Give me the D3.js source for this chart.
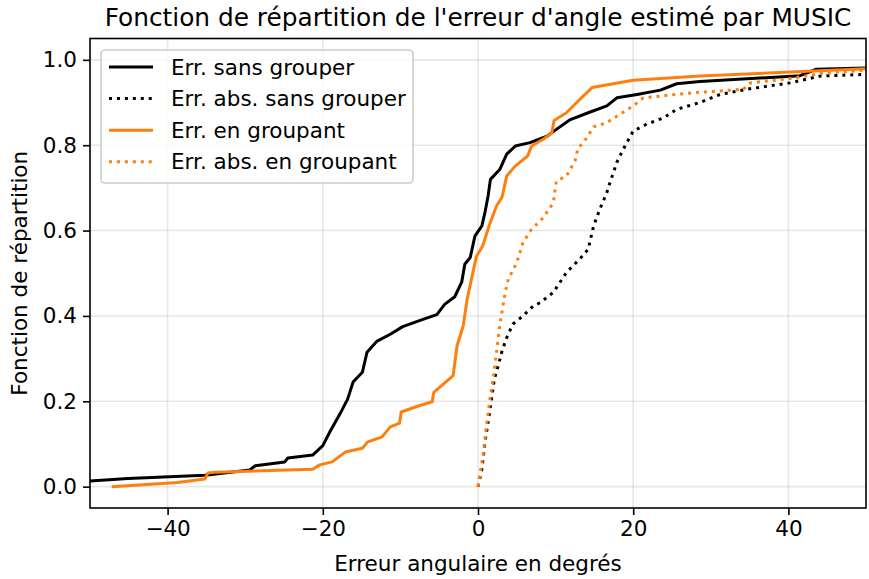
<!DOCTYPE html>
<html>
<head>
<meta charset="utf-8">
<script src="https://cdn.jsdelivr.net/npm/d3@7"></script>
<style>
  html, body { margin: 0; padding: 0; background: #fff; }
  svg { display: block; }
  text { font-family: "DejaVu Sans", sans-serif; }
</style>
</head>
<body>
<svg id="chart" width="869" height="579"></svg>
<script>
// Empirical CDFs of the MUSIC angle estimation error, as [error in degrees, cumulative fraction]
const errSans = [
  [-56, 0.010], [-50.0, 0.013], [-45.1, 0.019], [-35.2, 0.027], [-29.4, 0.039], [-28.7, 0.049],
  [-24.9, 0.058], [-24.5, 0.067], [-21.3, 0.074], [-20.0, 0.096], [-19.1, 0.128], [-17.8, 0.170],
  [-16.8, 0.205], [-16.1, 0.245], [-14.9, 0.268], [-14.3, 0.315], [-13.0, 0.341], [-11.3, 0.357],
  [-9.7, 0.375], [-7.1, 0.392], [-5.3, 0.403], [-4.3, 0.427], [-3.0, 0.445], [-2.1, 0.479],
  [-1.7, 0.521], [-1.0, 0.537], [-0.4, 0.587], [0.5, 0.611], [0.9, 0.643], [1.3, 0.681],
  [1.6, 0.720], [2.8, 0.743], [3.7, 0.779], [4.8, 0.798], [6.7, 0.806], [8.9, 0.821],
  [10.1, 0.837], [11.9, 0.860], [14.2, 0.876], [16.6, 0.892], [17.9, 0.911], [20.5, 0.919],
  [23.5, 0.929], [25.6, 0.944], [28.6, 0.949], [41.5, 0.963], [43.6, 0.978], [50.0, 0.981],
  [55, 0.984]
];
const absSans = [
  [0, 0.000], [0.5, 0.041], [0.9, 0.104], [1.3, 0.151], [1.8, 0.213], [2.1, 0.252],
  [2.6, 0.283], [3.1, 0.318], [3.7, 0.349], [4.5, 0.381], [5.8, 0.400], [7.1, 0.423],
  [8.0, 0.431], [9.7, 0.455], [11.4, 0.502], [13.1, 0.533], [14.2, 0.556], [14.9, 0.611],
  [15.7, 0.650], [16.6, 0.689], [17.0, 0.712], [17.9, 0.760], [18.7, 0.790], [20.0, 0.833],
  [21.7, 0.849], [23.9, 0.864], [25.6, 0.884], [28.6, 0.900], [31.2, 0.919], [34.6, 0.931],
  [40.2, 0.946], [44.1, 0.962], [50.0, 0.966], [55, 0.970]
];
const errGroup = [
  [-47.2, 0.000], [-38.7, 0.010], [-35.2, 0.018], [-34.8, 0.032], [-33.9, 0.034], [-21.3, 0.041],
  [-20.4, 0.051], [-18.8, 0.058], [-17.1, 0.081], [-14.9, 0.090], [-14.2, 0.105], [-12.4, 0.116],
  [-11.3, 0.140], [-10.1, 0.149], [-9.9, 0.175], [-7.7, 0.189], [-5.9, 0.199], [-5.7, 0.221],
  [-3.2, 0.260], [-2.7, 0.330], [-1.9, 0.377], [-1.4, 0.439], [-0.2, 0.540], [0.6, 0.564],
  [1.5, 0.615], [2.4, 0.658], [3.1, 0.678], [3.7, 0.728], [4.8, 0.751], [6.4, 0.775],
  [6.9, 0.798], [8.4, 0.814], [9.5, 0.828], [9.8, 0.858], [11.4, 0.876], [13.1, 0.907],
  [14.7, 0.935], [20.0, 0.952], [28.6, 0.962], [43.2, 0.974], [50.0, 0.979], [55, 0.982]
];
const absGroup = [
  [0, 0.000], [0.7, 0.080], [1.1, 0.143], [1.5, 0.201], [2.0, 0.260], [2.4, 0.318],
  [2.8, 0.377], [3.5, 0.455], [3.9, 0.486], [5.0, 0.525], [5.8, 0.572], [6.9, 0.603],
  [8.4, 0.630], [9.7, 0.665], [10.1, 0.716], [11.4, 0.728], [12.5, 0.763], [12.9, 0.794],
  [13.6, 0.806], [14.9, 0.843], [16.6, 0.853], [17.9, 0.868], [20.0, 0.892], [21.3, 0.911],
  [27.7, 0.923], [34.2, 0.931], [35.1, 0.946], [40.2, 0.956], [44.1, 0.968], [50.0, 0.976],
  [55, 0.978]
];

const xTicks = [-40, -20, 0, 20, 40];
const yTicks = [0, 0.2, 0.4, 0.6, 0.8, 1.0];

const titleText = "Fonction de répartition de l'erreur d'angle estimé par MUSIC";
const xLabel = "Erreur angulaire en degrés";
const yLabel = "Fonction de répartition";

const series = [
  { name: "Err. sans grouper", data: errSans, color: "#000000", dash: null },
  { name: "Err. abs. sans grouper", data: absSans, color: "#000000", dash: "3,4.95" },
  { name: "Err. en groupant", data: errGroup, color: "#ff7f0e", dash: null },
  { name: "Err. abs. en groupant", data: absGroup, color: "#ff7f0e", dash: "3,4.95" }
];

const svg = d3.select("#chart");
const margin = { left: 90, right: 3, top: 38.5, bottom: 71 };
const W = 869, H = 579;
const x0 = margin.left, x1 = W - margin.right;
const y0 = margin.top, y1 = H - margin.bottom;
const fs = 21.5;

const x = d3.scaleLinear().domain([-50, 50]).range([x0, x1]);
const y = d3.scaleLinear().domain([-0.05, 1.05]).range([y1, y0]);

// grid
const grid = svg.append("g").attr("stroke", "#b0b0b0").attr("stroke-opacity", 0.3).attr("stroke-width", 1.6);
xTicks.forEach(t => grid.append("line").attr("x1", x(t)).attr("x2", x(t)).attr("y1", y0).attr("y2", y1));
yTicks.forEach(t => grid.append("line").attr("x1", x0).attr("x2", x1).attr("y1", y(t)).attr("y2", y(t)));

// clip to the axes area
svg.append("clipPath").attr("id", "plotClip")
  .append("rect").attr("x", x0).attr("y", y0).attr("width", x1 - x0).attr("height", y1 - y0);

const line = d3.line().x(d => x(d[0])).y(d => y(d[1]));
const plot = svg.append("g").attr("clip-path", "url(#plotClip)");
series.forEach(s => {
  plot.append("path")
    .attr("d", line(s.data))
    .attr("fill", "none")
    .attr("stroke", s.color)
    .attr("stroke-width", 3)
    .attr("stroke-linejoin", "round")
    .attr("stroke-dasharray", s.dash);
});

// axes
const xAxis = d3.axisBottom(x).tickValues(xTicks).tickFormat(d3.format("d")).tickSize(7).tickPadding(6);
const yAxis = d3.axisLeft(y).tickValues(yTicks).tickFormat(d3.format(".1f")).tickSize(7).tickPadding(6);

const gx = svg.append("g").attr("transform", `translate(0,${y1})`).call(xAxis);
const gy = svg.append("g").attr("transform", `translate(${x0},0)`).call(yAxis);
[gx, gy].forEach(g => {
  g.select(".domain").remove();
  g.selectAll(".tick line").attr("stroke", "#000").attr("stroke-width", 1.6);
  g.selectAll(".tick text").attr("font-size", fs).attr("fill", "#000")
    .attr("font-family", "DejaVu Sans, sans-serif");
});

// spines
svg.append("rect").attr("x", x0).attr("y", y0).attr("width", x1 - x0).attr("height", y1 - y0)
  .attr("fill", "none").attr("stroke", "#000").attr("stroke-width", 1.6);

// titles
svg.append("text").attr("x", (x0 + x1) / 2).attr("y", 26).attr("text-anchor", "middle")
  .attr("font-size", 24.8).text(titleText);
svg.append("text").attr("x", (x0 + x1) / 2).attr("y", 571).attr("text-anchor", "middle")
  .attr("font-size", fs).text(xLabel);
svg.append("text").attr("transform", `translate(27,${(y0 + y1) / 2}) rotate(-90)`)
  .attr("text-anchor", "middle").attr("font-size", fs).text(yLabel);

// legend
const lg = svg.append("g");
lg.append("rect").attr("x", 101).attr("y", 50).attr("width", 312).attr("height", 133)
  .attr("rx", 4).attr("fill", "#fff").attr("fill-opacity", 0.8)
  .attr("stroke", "#cccccc").attr("stroke-width", 1.6);
series.forEach((s, i) => {
  const cy = 67 + i * 31.6;
  lg.append("line").attr("x1", 109).attr("x2", 153).attr("y1", cy).attr("y2", cy)
    .attr("stroke", s.color).attr("stroke-width", 3).attr("stroke-dasharray", s.dash);
  lg.append("text").attr("x", 171).attr("y", cy + 7.5).attr("font-size", fs).text(s.name);
});
</script>
</body>
</html>
